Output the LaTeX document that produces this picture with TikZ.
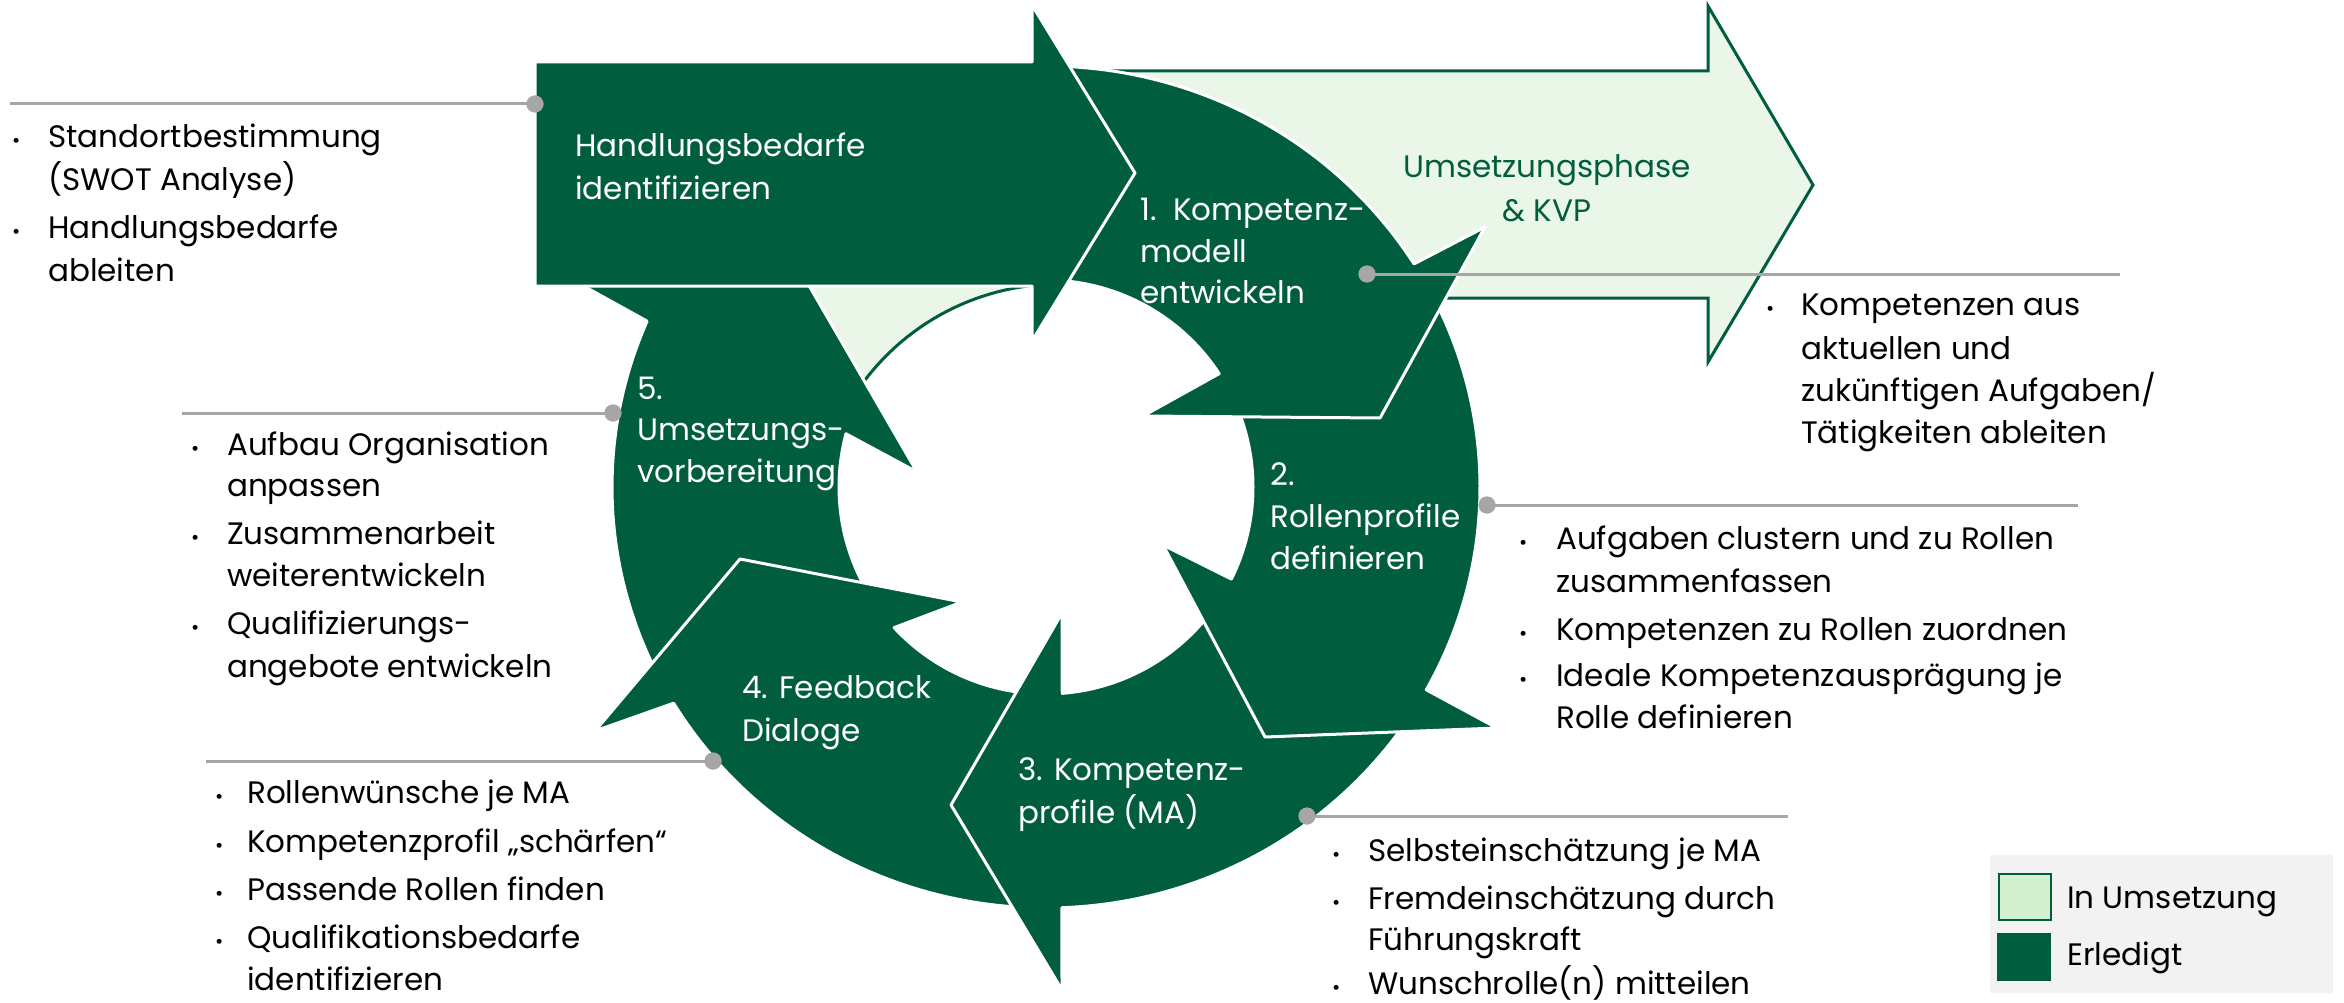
\documentclass[tikz,border=0pt]{standalone}
\usepackage{fontspec}
\setmainfont{Poppins}
\definecolor{dkg}{HTML}{005E3F}
\definecolor{ltg}{HTML}{EAF7E8}
\definecolor{lgbox}{HTML}{D5F0D0}
\definecolor{leadgray}{HTML}{A6A6A6}
\definecolor{legbg}{HTML}{F2F2F2}
\def\cx{1046}\def\cy{487}\def\rx{434}\def\ry{421}\def\ri{207}
\begin{document}
\begin{tikzpicture}[x=1pt,y=-1pt,
  ringarrow/.style={fill=dkg, draw=white, line width=3pt, line join=round},
  lightarrow/.style={fill=ltg, draw=dkg, line width=3pt, line join=miter},
  leader/.style={draw=leadgray, line width=3pt},
  dot/.style={circle, fill=leadgray, inner sep=0pt, minimum size=17pt},
  txt/.style={font=\fontsize{31}{43}\selectfont, anchor=base west, inner sep=0pt, text=black},
  wtxt/.style={txt, text=white},
  gtxt/.style={font=\fontsize{31}{43}\selectfont, anchor=base, inner sep=0pt, text=dkg},
  bul/.style={font=\fontsize{20}{20}\selectfont, anchor=base west, inner sep=0pt, text=black}]
\useasboundingbox (0,0) rectangle (2344,1003);
\fill[white] (0,0) rectangle (2344,1003);

% light arrow (Umsetzungsphase & KVP)
\draw[lightarrow] (1095,71) -- (1708,71) -- (1708,6) -- (1813,185) -- (1708,362) -- (1708,298)
  -- (1400,298) -- (1250,250) -- (1100,150) -- cycle;
% light patch inside the ring
\fill[ltg] (780,280) -- (1035,280) -- plot[domain=263:212, samples=40, variable=\t] ({1059+244*cos(\t)},{528+244*sin(\t)}) -- cycle;
\draw[dkg, line width=3pt] plot[domain=263:212, samples=40, variable=\t] ({1059+244*cos(\t)},{528+244*sin(\t)});

% arrow 5
\draw[ringarrow] plot[domain=152:203.2, samples=50, variable=\t] ({\cx+\rx*cos(\t)},{\cy+\ry*sin(\t)})
  -- (560,273) -- (745,175) -- (917,472)
  -- plot[domain=194.9:148, samples=40, variable=\t] ({\cx+\ri*cos(\t)},{\cy+\ri*sin(\t)}) -- cycle;
% arrow 4
\draw[ringarrow] plot[domain=93:149.1, samples=50, variable=\t] ({\cx+\rx*cos(\t)},{\cy+\ry*sin(\t)})
  -- (595,731) -- (740,559) -- (962,602)
  -- plot[domain=137.2:93, samples=40, variable=\t] ({\cx+\ri*cos(\t)},{\cy+\ri*sin(\t)}) -- cycle;
% arrow 3
\draw[ringarrow] plot[domain=33:87.9, samples=50, variable=\t] ({\cx+\rx*cos(\t)},{\cy+\ry*sin(\t)})
  -- (1062,990) -- (951,805) -- (1062,613)
  -- plot[domain=85.5:33, samples=40, variable=\t] ({\cx+\ri*cos(\t)},{\cy+\ri*sin(\t)}) -- cycle;
% arrow 2
\draw[ringarrow] plot[domain=-28:28.8, samples=50, variable=\t] ({\cx+\rx*cos(\t)},{\cy+\ry*sin(\t)})
  -- (1497,728) -- (1265,737) -- (1163,545)
  -- plot[domain=26.4:-28, samples=40, variable=\t] ({\cx+\ri*cos(\t)},{\cy+\ri*sin(\t)}) -- cycle;
% arrow 1
\draw[ringarrow] plot[domain=-95:-32, samples=50, variable=\t] ({\cx+\rx*cos(\t)},{\cy+\ry*sin(\t)})
  -- (1485,227) -- (1380,418) -- (1143,416)
  -- plot[domain=-33.2:-95, samples=40, variable=\t] ({\cx+\ri*cos(\t)},{\cy+\ri*sin(\t)}) -- cycle;
% Handlungsbedarfe arrow
\draw[ringarrow] (535,62) -- (1032,62) -- (1032,5) -- (1135,173) -- (1032,341) -- (1032,286) -- (535,286) -- cycle;

% texts in the arrows
\node[wtxt] (h1) at (575,157) {Handlungsbedarfe};
\node[wtxt] (h2) at (575,200) {identifizieren};
\node[wtxt] (k1) at (1140,220) {1.\ \ Kompetenz-};
\node[wtxt] (k2) at (1140,262) {modell};
\node[wtxt] (k3) at (1140,303) {entwickeln};
\node[wtxt] (r1) at (1270,485) {2.};
\node[wtxt] (r2) at (1270,527) {Rollenprofile};
\node[wtxt] (r3) at (1270,569) {definieren};
\node[wtxt] (p1) at (1018,780) {3. Kompetenz-};
\node[wtxt] (p2) at (1018,823) {profile (MA)};
\node[wtxt] (f1) at (742,698) {4. Feedback};
\node[wtxt] (f2) at (742,741) {Dialoge};
\node[wtxt] (u1) at (637,399) {5.};
\node[wtxt] (u2) at (637,440) {Umsetzungs-};
\node[wtxt] (u3) at (637,482) {vorbereitung};
\node[gtxt] (g1) at (1547,178) {Umsetzungsphase};
\node[gtxt] (g2) at (1547,222) {\& KVP};

% leaders and dots
\node[dot] (d1) at (535,104) {};
\node[dot] (d2) at (613,413) {};
\node[dot] (d3) at (713,761) {};
\node[dot] (d4) at (1307,816) {};
\node[dot] (d5) at (1487,505) {};
\node[dot] (d6) at (1367,274) {};
\coordinate (e1) at (10,104);
\coordinate (e2) at (182,413);
\coordinate (e3) at (206,761);
\coordinate (e4) at (1788,816);
\coordinate (e5) at (2078,505);
\coordinate (e6) at (2120,274);
\draw[leader] (e1) -- (d1.center);
\draw[leader] (e2) -- (d2.center);
\draw[leader] (e3) -- (d3.center);
\draw[leader] (d4.center) -- (e4);
\draw[leader] (d5.center) -- (e5);
\draw[leader] (d6.center) -- (e6);
\node[dot] at (d1) {};
\node[dot] at (d2) {};
\node[dot] at (d3) {};
\node[dot] at (d4) {};
\node[dot] at (d5) {};
\node[dot] at (d6) {};

% block 1
\node[bul] (a1b) at (12,148) {•};
\node[txt] (a1) at (48,148) {Standortbestimmung};
\node[txt] (a2) at (48,190) {(SWOT Analyse)};
\node[bul] (a3b) at (12,238) {•};
\node[txt] (a3) at (48,238) {Handlungsbedarfe};
\node[txt] (a4) at (48,281) {ableiten};
% block 2
\node[bul] (b1b) at (191,455) {•};
\node[txt] (b1) at (227,455) {Aufbau Organisation};
\node[txt] (b2) at (227,496) {anpassen};
\node[bul] (b3b) at (191,544) {•};
\node[txt] (b3) at (227,544) {Zusammenarbeit};
\node[txt] (b4) at (227,586) {weiterentwickeln};
\node[bul] (b5b) at (191,634) {•};
\node[txt] (b5) at (227,634) {Qualifizierungs-};
\node[txt] (b6) at (227,677) {angebote entwickeln};
% block 3
\node[bul] (c1b) at (215,803) {•};
\node[txt] (c1) at (247,803) {Rollenwünsche je MA};
\node[bul] (c2b) at (215,852) {•};
\node[txt] (c2) at (247,852) {Kompetenzprofil „schärfen“};
\node[bul] (c3b) at (215,900) {•};
\node[txt] (c3) at (247,900) {Passende Rollen finden};
\node[bul] (c4b) at (215,948) {•};
\node[txt] (c4) at (247,948) {Qualifikationsbedarfe};
\node[txt] (c5) at (247,990) {identifizieren};
% block 4
\node[bul] (s1b) at (1332,861) {•};
\node[txt] (s1) at (1368,861) {Selbsteinschätzung je MA};
\node[bul] (s2b) at (1332,909) {•};
\node[txt] (s2) at (1368,909) {Fremdeinschätzung durch};
\node[txt] (s3) at (1368,950) {Führungskraft};
\node[bul] (s4b) at (1332,994) {•};
\node[txt] (s4) at (1368,994) {Wunschrolle(n) mitteilen};
% block 5
\node[bul] (v1b) at (1519,549) {•};
\node[txt] (v1) at (1556,549) {Aufgaben clustern und zu Rollen};
\node[txt] (v2) at (1556,592) {zusammenfassen};
\node[bul] (v3b) at (1519,640) {•};
\node[txt] (v3) at (1556,640) {Kompetenzen zu Rollen zuordnen};
\node[bul] (v4b) at (1519,686) {•};
\node[txt] (v4) at (1556,686) {Ideale Kompetenzausprägung je};
\node[txt] (v5) at (1556,728) {Rolle definieren};
% block 6
\node[bul] (w1b) at (1766,315) {•};
\node[txt] (w1) at (1801,315) {Kompetenzen aus};
\node[txt] (w2) at (1801,359) {aktuellen und};
\node[txt] (w3) at (1801,401) {zukünftigen Aufgaben/};
\node[txt] (w4) at (1801,443) {Tätigkeiten ableiten};

% legend
\node[fill=legbg, anchor=north west, inner sep=0pt, minimum width=343pt, minimum height=138pt] (leg) at (1990,855) {};
\node[fill=lgbox, draw=dkg, line width=2pt, anchor=north west, inner sep=0pt, minimum width=52pt, minimum height=46pt] (legl) at (1998,873) {};
\node[fill=dkg, anchor=north west, inner sep=0pt, minimum width=54pt, minimum height=48pt] (legd) at (1997,933) {};
\node[txt] (legt1) at (2067,908) {In Umsetzung};
\node[txt] (legt2) at (2067,965) {Erledigt};
\end{tikzpicture}
\end{document}
